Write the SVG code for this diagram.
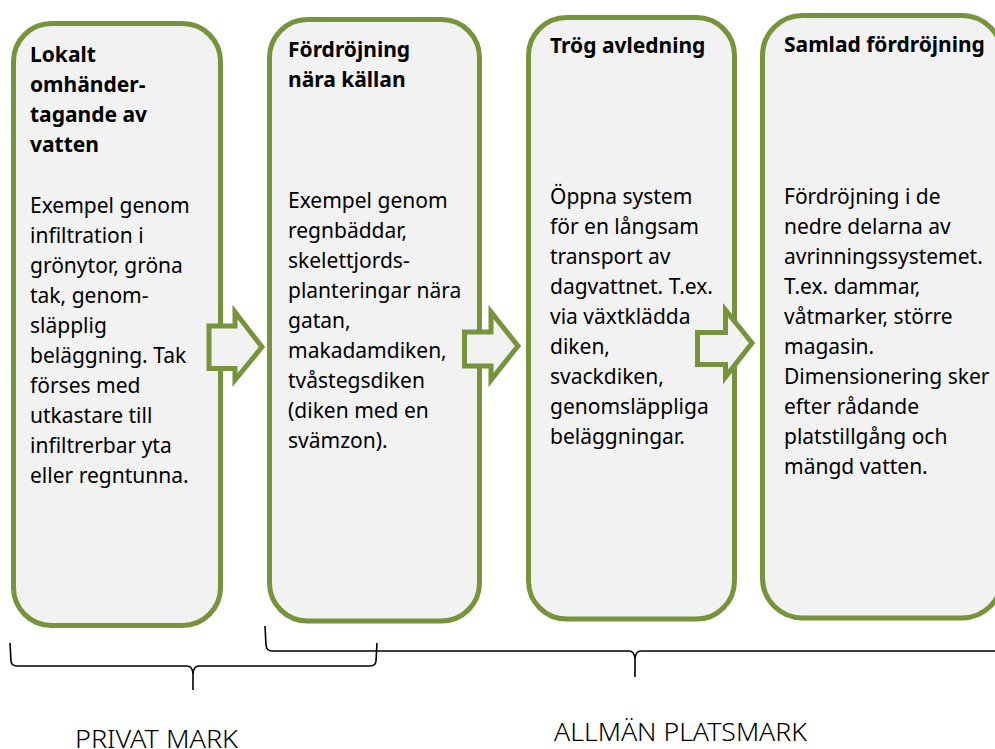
<svg xmlns="http://www.w3.org/2000/svg" width="995" height="749" viewBox="0 0 995 749">
<style>
.box{fill:#F2F2F2;stroke:#77933C;stroke-width:5}
.arr{fill:#F2F2F2;stroke:#77933C;stroke-width:5;stroke-linejoin:miter}
.t{font-family:"Noto Sans","Open Sans",sans-serif;font-size:21px;font-weight:bold;fill:#000}
.b{font-family:"Noto Sans","Open Sans",sans-serif;font-size:21px;fill:#000}
.brace{fill:none;stroke:#000;stroke-width:1.6}
.lab{font-family:"Noto Sans","Open Sans",sans-serif;font-size:26px;font-weight:300;fill:#000}
</style>
<rect width="995" height="749" fill="#FFFFFF"/>
<g id="node1">
<rect class="box" x="13.5" y="23.5" width="207" height="602" rx="38" ry="38"/>
<text class="t" x="30"><tspan x="30" y="62">Lokalt</tspan><tspan x="30" y="92">omhänder-</tspan><tspan x="30" y="122">tagande av</tspan><tspan x="30" y="152">vatten</tspan></text>
<text class="b"><tspan x="30" y="213">Exempel genom</tspan><tspan x="30" y="243">infiltration i</tspan><tspan x="30" y="273">grönytor, gröna</tspan><tspan x="30" y="303">tak, genom-</tspan><tspan x="30" y="333">släpplig</tspan><tspan x="30" y="363">beläggning. Tak</tspan><tspan x="30" y="393">förses med</tspan><tspan x="30" y="423">utkastare till</tspan><tspan x="30" y="453">infiltrerbar yta</tspan><tspan x="30" y="483">eller regntunna.</tspan></text>
</g>
<g id="node2">
<rect class="box" x="269.5" y="19.5" width="210" height="601.5" rx="38" ry="38"/>
<text class="t"><tspan x="288" y="57">Fördröjning</tspan><tspan x="288" y="87">nära källan</tspan></text>
<text class="b"><tspan x="288" y="208">Exempel genom</tspan><tspan x="288" y="238">regnbäddar,</tspan><tspan x="288" y="268">skelettjords-</tspan><tspan x="288" y="298">planteringar nära</tspan><tspan x="288" y="328">gatan,</tspan><tspan x="288" y="358">makadamdiken,</tspan><tspan x="288" y="388">tvåstegsdiken</tspan><tspan x="288" y="418">(diken med en</tspan><tspan x="288" y="448">svämzon).</tspan></text>
</g>
<g id="node3">
<rect class="box" x="528.5" y="17.5" width="206" height="601.5" rx="38" ry="38"/>
<text class="t"><tspan x="550" y="53">Trög avledning</tspan></text>
<text class="b"><tspan x="550" y="204">Öppna system</tspan><tspan x="550" y="234">för en långsam</tspan><tspan x="550" y="264">transport av</tspan><tspan x="550" y="294">dagvattnet. T.ex.</tspan><tspan x="550" y="324">via växtklädda</tspan><tspan x="550" y="354">diken,</tspan><tspan x="550" y="384">svackdiken,</tspan><tspan x="550" y="414">genomsläppliga</tspan><tspan x="550" y="444">beläggningar.</tspan></text>
</g>
<g id="node4">
<rect class="box" x="762.5" y="15.5" width="239.5" height="602.5" rx="40" ry="40"/>
<text class="t"><tspan x="784" y="52">Samlad fördröjning</tspan></text>
<text class="b"><tspan x="784" y="204">Fördröjning i de</tspan><tspan x="784" y="234">nedre delarna av</tspan><tspan x="784" y="264">avrinningssystemet.</tspan><tspan x="784" y="294">T.ex. dammar,</tspan><tspan x="784" y="324">våtmarker, större</tspan><tspan x="784" y="354">magasin.</tspan><tspan x="784" y="384">Dimensionering sker</tspan><tspan x="784" y="414">efter rådande</tspan><tspan x="784" y="444">platstillgång och</tspan><tspan x="784" y="474">mängd vatten.</tspan></text>
</g>
<g id="connectors">
<polygon class="arr" points="209,326 235,326 235,312 262,347 235,380 235,368.5 209,368.5"/>
<polygon class="arr" points="464.5,332 491,332 491,312 518,346 491,380 491,366 464.5,366"/>
<polygon class="arr" points="697.5,332.5 725.5,332.5 725.5,310 752,343 725.5,377 725.5,364.5 697.5,364.5"/>
</g>
<g id="brace-private">
<path class="brace" d="M10,643 L11,661 Q11.5,666 17,666 L187,666 Q192.5,666 193,674 L193,690 M193,674 Q193.5,666 199,666 L370,666 Q375.5,666 376,661 L377,643"/>
<text class="lab" x="75" y="748" textLength="163" lengthAdjust="spacingAndGlyphs">PRIVAT MARK</text>
</g>
<g id="brace-public">
<path class="brace" d="M265,626 L266,645 Q266.5,651 272,651 L629,651 Q634.5,651 635,659 L635,677 M635,659 Q635.5,651 641,651 L998,651 Q1003.5,651 1004,645 L1005,626"/>
<text class="lab" x="554" y="741" textLength="253" lengthAdjust="spacingAndGlyphs">ALLMÄN PLATSMARK</text>
</g>
</svg>
